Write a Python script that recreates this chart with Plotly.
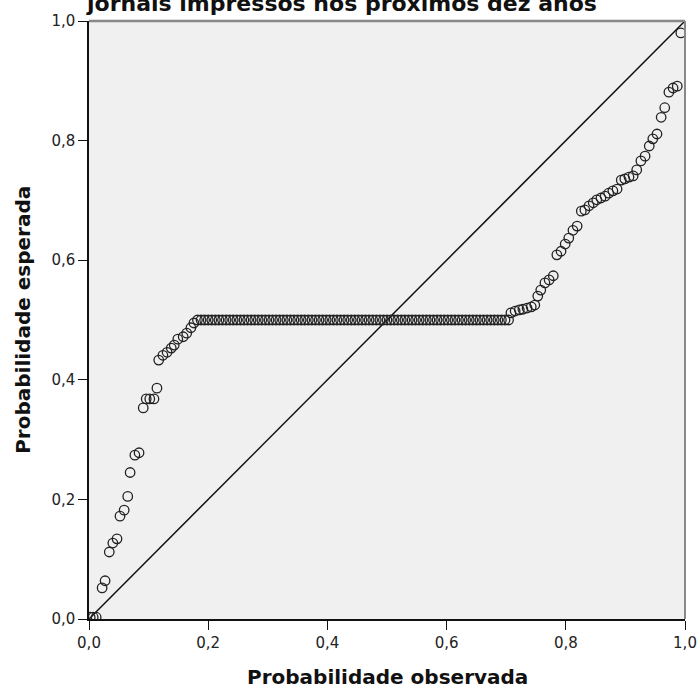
import plotly.graph_objects as go

low_x = [0.002, 0.007, 0.012, 0.022, 0.027, 0.034, 0.040, 0.047, 0.052, 0.059,
         0.065, 0.069, 0.077, 0.084, 0.091, 0.096, 0.102, 0.109, 0.114, 0.117,
         0.124, 0.131, 0.138, 0.143, 0.149, 0.158, 0.164, 0.171, 0.176]
low_y = [0.003, 0.003, 0.003, 0.052, 0.064, 0.112, 0.127, 0.134, 0.172, 0.182,
         0.205, 0.245, 0.274, 0.278, 0.353, 0.368, 0.368, 0.368, 0.386, 0.433,
         0.441, 0.446, 0.453, 0.458, 0.468, 0.472, 0.478, 0.487, 0.495]

flat_x = [0.182, 0.188, 0.194, 0.200, 0.206, 0.212, 0.218, 0.224, 0.230, 0.236,
          0.242, 0.248, 0.254, 0.260, 0.266, 0.272, 0.278, 0.284, 0.290, 0.296,
          0.302, 0.308, 0.314, 0.320, 0.326, 0.332, 0.338, 0.344, 0.350, 0.356,
          0.362, 0.368, 0.374, 0.380, 0.386, 0.392, 0.398, 0.404, 0.410, 0.416,
          0.422, 0.428, 0.434, 0.440, 0.446, 0.452, 0.458, 0.464, 0.470, 0.476,
          0.482, 0.488, 0.494, 0.500, 0.506, 0.512, 0.518, 0.524, 0.530, 0.536,
          0.542, 0.548, 0.554, 0.560, 0.566, 0.572, 0.578, 0.584, 0.590, 0.596,
          0.602, 0.608, 0.614, 0.620, 0.626, 0.632, 0.638, 0.644, 0.650, 0.656,
          0.662, 0.668, 0.674, 0.680, 0.686, 0.692, 0.698, 0.704]
flat_y = [0.500, 0.500, 0.500, 0.500, 0.500, 0.500, 0.500, 0.500, 0.500, 0.500,
          0.500, 0.500, 0.500, 0.500, 0.500, 0.500, 0.500, 0.500, 0.500, 0.500,
          0.500, 0.500, 0.500, 0.500, 0.500, 0.500, 0.500, 0.500, 0.500, 0.500,
          0.500, 0.500, 0.500, 0.500, 0.500, 0.500, 0.500, 0.500, 0.500, 0.500,
          0.500, 0.500, 0.500, 0.500, 0.500, 0.500, 0.500, 0.500, 0.500, 0.500,
          0.500, 0.500, 0.500, 0.500, 0.500, 0.500, 0.500, 0.500, 0.500, 0.500,
          0.500, 0.500, 0.500, 0.500, 0.500, 0.500, 0.500, 0.500, 0.500, 0.500,
          0.500, 0.500, 0.500, 0.500, 0.500, 0.500, 0.500, 0.500, 0.500, 0.500,
          0.500, 0.500, 0.500, 0.500, 0.500, 0.500, 0.500, 0.500]

high_x = [0.708, 0.715, 0.722, 0.728, 0.735, 0.742, 0.748, 0.753, 0.758, 0.765,
          0.772, 0.779, 0.785, 0.792, 0.799, 0.805, 0.812, 0.819, 0.826, 0.832,
          0.839, 0.846, 0.852, 0.859, 0.866, 0.872, 0.879, 0.886, 0.893, 0.899,
          0.906, 0.913, 0.919, 0.926, 0.933, 0.940, 0.946, 0.953, 0.960, 0.966,
          0.973, 0.980, 0.987, 0.993]
high_y = [0.512, 0.515, 0.517, 0.518, 0.520, 0.522, 0.525, 0.540, 0.550, 0.562,
          0.567, 0.574, 0.609, 0.615, 0.627, 0.637, 0.650, 0.657, 0.682, 0.684,
          0.691, 0.696, 0.701, 0.704, 0.707, 0.712, 0.716, 0.719, 0.734, 0.736,
          0.739, 0.741, 0.751, 0.766, 0.774, 0.791, 0.803, 0.811, 0.839, 0.855,
          0.881, 0.888, 0.891, 0.980]

ref_x = [0.0, 1.0]
ref_y = [0.0, 1.0]

tick_vals = [0.0, 0.2, 0.4, 0.6, 0.8, 1.0]
tick_text = ["0,0", "0,2", "0,4", "0,6", "0,8", "1,0"]

title_text = "jornais impressos nos próximos dez anos"
x_title = "Probabilidade observada"
y_title = "Probabilidade esperada"

obs_x = low_x + flat_x + high_x
exp_y = low_y + flat_y + high_y

fig = go.Figure()
fig.add_trace(go.Scatter(
    x=ref_x, y=ref_y, mode="lines",
    line=dict(color="#111111", width=1.5),
    hoverinfo="skip", showlegend=False))
fig.add_trace(go.Scatter(
    x=obs_x, y=exp_y, mode="markers",
    marker=dict(symbol="circle-open", size=9.5, color="#222222",
                line=dict(width=1.3, color="#222222")),
    showlegend=False))

axis_common = dict(
    range=[0, 1], tickvals=tick_vals, ticktext=tick_text,
    ticks="outside", ticklen=9, tickwidth=1.3, tickcolor="#111111",
    showgrid=False, zeroline=False, showline=True, linecolor="#111111",
    linewidth=1.5, tickfont=dict(family="DejaVu Sans", size=15, color="#222222"),
    automargin=False, fixedrange=True)

fig.update_layout(
    width=698, height=688,
    margin=dict(l=89, r=13, t=21, b=69, autoexpand=False),
    paper_bgcolor="white", plot_bgcolor="#f0f0f0",
    xaxis=dict(**axis_common),
    yaxis=dict(**axis_common),
    shapes=[
        dict(type="line", xref="paper", yref="paper", x0=0, x1=1, y0=1, y1=1,
             line=dict(color="#888888", width=2.5)),
        dict(type="line", xref="paper", yref="paper", x0=1, x1=1, y0=0, y1=1,
             line=dict(color="#888888", width=2)),
    ],
    annotations=[
        dict(text="<b>" + title_text + "</b>", xref="paper", yref="paper",
             x=0.423, y=1.030, xanchor="center", yanchor="middle",
             showarrow=False, font=dict(family="DejaVu Sans", size=22, color="#111111")),
        dict(text="<b>" + x_title + "</b>", xref="paper", yref="paper",
             x=0.5, y=-0.097, xanchor="center", yanchor="middle",
             showarrow=False, font=dict(family="DejaVu Sans", size=20, color="#111111")),
        dict(text="<b>" + y_title + "</b>", xref="paper", yref="paper",
             x=-0.111, y=0.5, xanchor="center", yanchor="middle", textangle=-90,
             showarrow=False, font=dict(family="DejaVu Sans", size=20, color="#111111")),
    ],
)

fig.write_html("out.html")
